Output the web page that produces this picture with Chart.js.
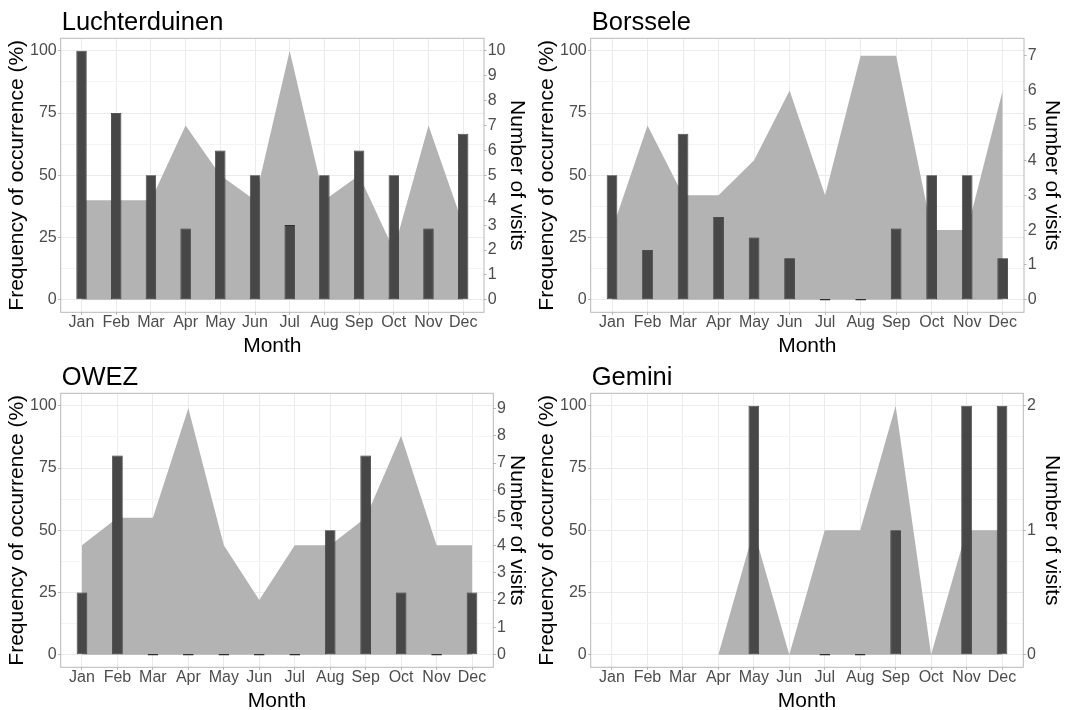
<!DOCTYPE html>
<html lang="en">
<head>
<meta charset="UTF-8">
<title>Frequency of occurrence and number of visits per month</title>
<script src="https://cdn.jsdelivr.net/npm/chart.js"></script>
<style>
  body { margin: 0; background: #fff; }
  .wrap { position: relative; width: 1065px; height: 710px; }
  canvas { position: absolute; }
</style>
</head>
<body>
<div class="wrap">
  <canvas id="c1" width="530" height="355" style="left:0;top:0"></canvas>
  <canvas id="c2" width="535" height="355" style="left:530px;top:0"></canvas>
  <canvas id="c3" width="530" height="355" style="left:0;top:355px"></canvas>
  <canvas id="c4" width="535" height="355" style="left:530px;top:355px"></canvas>
</div>
<script>
// data
const months = ['Jan', 'Feb', 'Mar', 'Apr', 'May', 'Jun', 'Jul', 'Aug', 'Sep', 'Oct', 'Nov', 'Dec'];
const freqTicks = [0, 25, 50, 75, 100];
const freqMinor = [12.5, 37.5, 62.5, 87.5];

const freqLuchterduinen = [100, 75, 50, 28.6, 60, 50, 30, 50, 60, 50, 28.6, 66.7];
const visitsLuchterduinen = [4, 4, 4, 7, 5, 4, 10, 4, 5, 2, 7, 3];
const visitTicksLuchterduinen = [0, 1, 2, 3, 4, 5, 6, 7, 8, 9, 10];

const freqBorssele = [50, 20, 66.7, 33.3, 25, 16.7, 0, 0, 28.6, 50, 50, 16.7];
const visitsBorssele = [2, 5, 3, 3, 4, 6, 3, 7, 7, 2, 2, 6];
const visitTicksBorssele = [0, 1, 2, 3, 4, 5, 6, 7];

const freqOWEZ = [25, 80, 0, 0, 0, 0, 0, 50, 80, 25, 0, 25];
const visitsOWEZ = [4, 5, 5, 9, 4, 2, 4, 4, 5, 8, 4, 4];
const visitTicksOWEZ = [0, 1, 2, 3, 4, 5, 6, 7, 8, 9];

const freqGemini = [null, null, null, null, 100, null, 0, 0, 50, null, 100, 100];
const visitsGemini = [null, null, null, 0, 1, 0, 1, 1, 2, 0, 1, 1];
const visitTicksGemini = [0, 1, 2];

Chart.defaults.font.family = '"Liberation Sans", Arial, sans-serif';

const tickFont = { size: 16, lineHeight: 1 };
const titleFont = { size: 21 };

// panel border + panel title
const panelDecor = {
    id: 'panelDecor',
    afterDatasetsDraw(chart) {
        const { ctx, chartArea: a } = chart;
        ctx.save();
        ctx.strokeStyle = '#B8B8B8';
        ctx.lineWidth = 1;
        ctx.strokeRect(a.left, a.top, a.right - a.left, a.bottom - a.top);
        ctx.restore();
    },
    afterDraw(chart, args, opts) {
        const { ctx, chartArea: a } = chart;
        ctx.save();
        ctx.font = '25.5px "Liberation Sans", Arial, sans-serif';
        ctx.fillStyle = '#000';
        ctx.textBaseline = 'alphabetic';
        ctx.fillText(opts.text, a.left + 1, 30);
        ctx.restore();
    }
};

function makeChart(id, title, freq, visits, visitTicks, coef, rightWidth) {
    new Chart(document.getElementById(id), {
        type: 'bar',
        data: {
            datasets: [
                {
                    type: 'bar',
                    label: 'Frequency of occurrence (%)',
                    data: freq.map((v, i) => ({ x: i, y: v })),
                    yAxisID: 'y',
                    backgroundColor: '#474747',
                    borderColor: '#2E2E2E',
                    borderWidth: 0.8,
                    borderSkipped: false,
                    barPercentage: 0.3,
                    categoryPercentage: 1,
                    minBarLength: 1.5,
                    order: 0
                },
                {
                    type: 'line',
                    label: 'Number of visits',
                    data: visits.map((v, i) => ({ x: i, y: v })),
                    yAxisID: 'y2',
                    fill: 'origin',
                    backgroundColor: '#B3B3B3',
                    borderColor: 'rgba(0,0,0,0)',
                    borderWidth: 0,
                    pointRadius: 0,
                    tension: 0,
                    order: 1
                }
            ]
        },
        options: {
            responsive: false,
            animation: false,
            layout: { padding: { top: 38.3 } },
            plugins: {
                legend: { display: false },
                tooltip: { enabled: false },
                panelDecor: { text: title }
            },
            scales: {
                x: {
                    type: 'linear',
                    position: 'bottom',
                    min: -0.6,
                    max: 11.6,
                    offset: false,
                    afterBuildTicks: s => { s.ticks = months.map((m, i) => ({ value: i })); },
                    ticks: {
                        callback: v => months[v],
                        autoSkip: false,
                        maxRotation: 0,
                        font: tickFont,
                        color: '#4D4D4D',
                        padding: 0
                    },
                    grid: { color: '#EBEBEB', offset: false, tickLength: 2.5, tickColor: '#B3B3B3' },
                    border: { display: false },
                    title: {
                        display: true, text: 'Month', color: '#000',
                        font: { size: 21, lineHeight: 1 }, padding: { top: 0, bottom: -1.5 }
                    },
                    afterFit: s => { s.height = 42.7; }
                },
                y: {
                    position: 'left',
                    min: -5,
                    max: 105,
                    afterBuildTicks: s => {
                        s.ticks = freqTicks.concat(freqMinor).sort((a, b) => a - b).map(v => ({ value: v }));
                    },
                    ticks: {
                        callback: v => freqTicks.includes(v) ? String(v) : '',
                        font: tickFont,
                        color: '#4D4D4D',
                        padding: 1.5
                    },
                    grid: {
                        color: c => (c.tick && freqTicks.includes(c.tick.value)) ? '#EBEBEB' : '#F4F4F4',
                        tickLength: 2.5,
                        tickColor: c => (c.tick && freqTicks.includes(c.tick.value)) ? '#B3B3B3' : 'rgba(0,0,0,0)'
                    },
                    border: { display: false },
                    title: {
                        display: true, text: 'Frequency of occurrence (%)', color: '#000',
                        font: titleFont, padding: { top: 5, bottom: 0 }
                    },
                    afterFit: s => { s.width = 60.7; }
                },
                y2: {
                    position: 'right',
                    min: -5 / coef,
                    max: 105 / coef,
                    afterBuildTicks: s => { s.ticks = visitTicks.map(v => ({ value: v })); },
                    ticks: {
                        callback: v => String(v),
                        font: tickFont,
                        color: '#4D4D4D',
                        padding: 1.2
                    },
                    grid: { drawOnChartArea: false, tickLength: 2.5, tickColor: '#B3B3B3' },
                    border: { display: false },
                    title: {
                        display: true, text: 'Number of visits', color: '#000',
                        font: titleFont, padding: { top: 1, bottom: 0 }
                    },
                    afterFit: s => { s.width = rightWidth; }
                }
            }
        },
        plugins: [panelDecor]
    });
}

makeChart('c1', 'Luchterduinen', freqLuchterduinen, visitsLuchterduinen, visitTicksLuchterduinen, 10, 46);
makeChart('c2', 'Borssele', freqBorssele, visitsBorssele, visitTicksBorssele, 14, 41);
makeChart('c3', 'OWEZ', freqOWEZ, visitsOWEZ, visitTicksOWEZ, 11, 36.7);
makeChart('c4', 'Gemini', freqGemini, visitsGemini, visitTicksGemini, 50, 41.7);
</script>
</body>
</html>
